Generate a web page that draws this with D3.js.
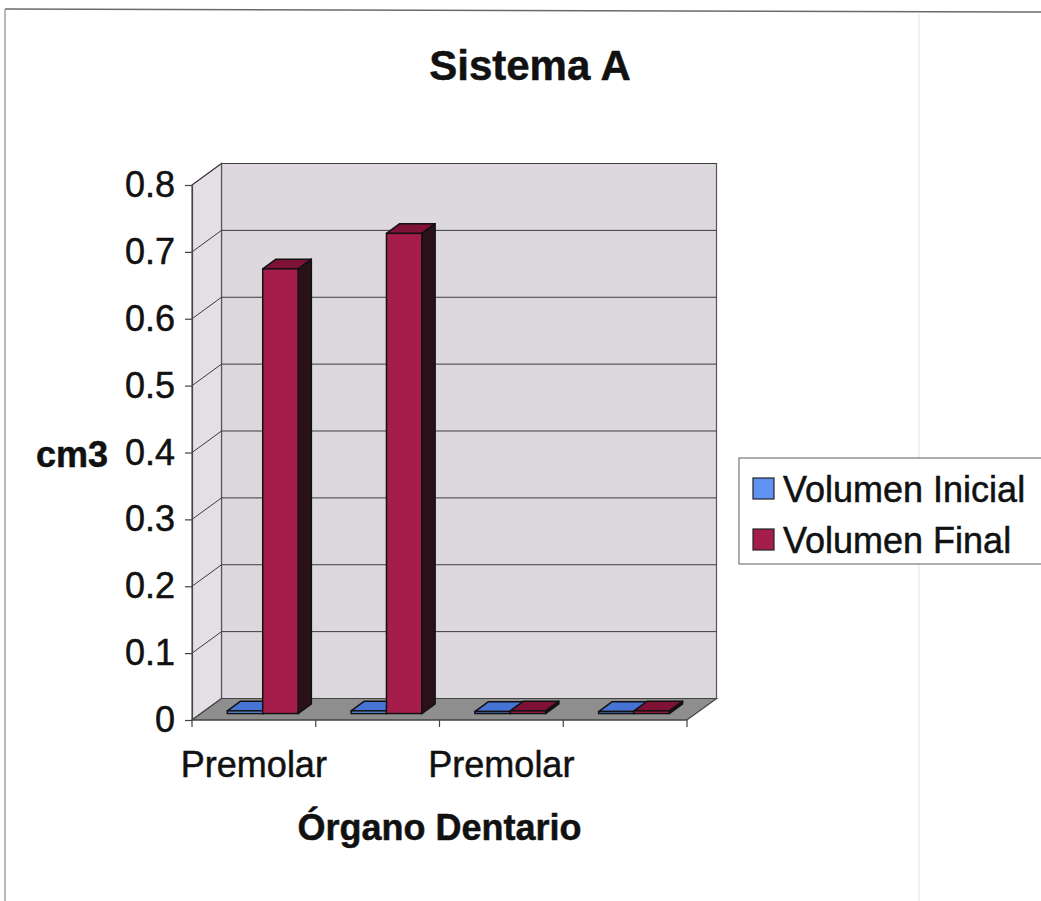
<!DOCTYPE html>
<html>
<head>
<meta charset="utf-8">
<script src="https://cdn.jsdelivr.net/npm/d3@7/dist/d3.min.js"></script>
<style>
  html, body { margin: 0; padding: 0; background: #fff; }
  svg { display: block; font-family: "Liberation Sans", Arial, sans-serif; }
  text { stroke: #111; stroke-width: 0.5px; }
</style>
</head>
<body>
<svg id="chart" width="1041" height="901"></svg>
<script>
// ---- data ----
const chartTitle = "Sistema A";
const yAxisTitle = "cm3";
const xAxisTitle = "Órgano Dentario";
const categories = ["Premolar", "Premolar", "Premolar", "Premolar"];
const seriesNames = ["Volumen Inicial", "Volumen Final"];
const volumenInicial = [0.004, 0.004, 0.003, 0.003];
const volumenFinal = [0.665, 0.718, 0.004, 0.004];
const yTickValues = [0, 0.1, 0.2, 0.3, 0.4, 0.5, 0.6, 0.7, 0.8];
const yTickLabels = ["0", "0.1", "0.2", "0.3", "0.4", "0.5", "0.6", "0.7", "0.8"];

// ---- layout ----
const svg = d3.select("#chart");
const X0 = 192, X1 = 687, YTOP = 185, YBOT = 720;
const DX = 29.5, DY = -21.5;       // depth offset of back wall
const Z0 = 0.3, Z1 = 0.75;         // bar depth span
const font = "'Liberation Sans', Arial, sans-serif";

const y = d3.scaleLinear().domain([0, 0.8]).range([YBOT, YTOP]);
const x = d3.scaleBand().domain(d3.range(categories.length)).range([X0, X1]).padding(0);
const series = [
  { name: seriesNames[0], values: volumenInicial, front: "#5f92f2", top: "#4674d4", side: "#18285a" },
  { name: seriesNames[1], values: volumenFinal, front: "#a51d4b", top: "#7d1236", side: "#2a1117" }
];

// frame artefacts
svg.append("line").attr("x1", 5).attr("y1", 9).attr("x2", 1041).attr("y2", 12)
  .attr("stroke", "#6a6a6a").attr("stroke-width", 1.5);
svg.append("line").attr("x1", 5).attr("y1", 9).attr("x2", 5).attr("y2", 901)
  .attr("stroke", "#8a8a8a").attr("stroke-width", 1.2);
svg.append("line").attr("x1", 919).attr("y1", 14).attr("x2", 919).attr("y2", 901)
  .attr("stroke", "#e3eef4").attr("stroke-width", 1.5);

// title
svg.append("text").attr("x", 530).attr("y", 80).attr("text-anchor", "middle")
  .attr("font-size", 42).attr("font-weight", "bold").attr("fill", "#111").text(chartTitle);

const g = svg.append("g");
const P = (px, py) => px + "," + py;

// back wall
g.append("polygon")
  .attr("points", [P(X0 + DX, YTOP + DY), P(X1 + DX, YTOP + DY), P(X1 + DX, YBOT + DY), P(X0 + DX, YBOT + DY)].join(" "))
  .attr("fill", "#ddd8de").attr("stroke", "#555").attr("stroke-width", 1.2);
// side wall
g.append("polygon")
  .attr("points", [P(X0, YTOP), P(X0 + DX, YTOP + DY), P(X0 + DX, YBOT + DY), P(X0, YBOT)].join(" "))
  .attr("fill", "#e4dfe4").attr("stroke", "#555").attr("stroke-width", 1.2);
// floor
g.append("polygon")
  .attr("points", [P(X0, YBOT), P(X1, YBOT), P(X1 + DX, YBOT + DY), P(X0 + DX, YBOT + DY)].join(" "))
  .attr("fill", "#8e8e8e").attr("stroke", "#444").attr("stroke-width", 1.2);

// gridlines
yTickValues.forEach(v => {
  if (v === 0) return;
  g.append("line").attr("x1", X0 + DX).attr("x2", X1 + DX).attr("y1", y(v) + DY).attr("y2", y(v) + DY)
    .attr("stroke", "#3c3c3c").attr("stroke-width", 1);
  g.append("line").attr("x1", X0).attr("x2", X0 + DX).attr("y1", y(v)).attr("y2", y(v) + DY)
    .attr("stroke", "#3c3c3c").attr("stroke-width", 1);
});

// y axis
const yAxis = d3.axisLeft(y).tickValues(yTickValues)
  .tickFormat((d, i) => yTickLabels[i]).tickSize(7).tickPadding(10).tickSizeOuter(0);
const ya = g.append("g").attr("transform", `translate(${X0},0)`).call(yAxis);
ya.select(".domain").attr("stroke", "#444").attr("stroke-width", 1.2);
ya.selectAll(".tick line").attr("stroke", "#444").attr("stroke-width", 1.2);
ya.selectAll(".tick text").attr("font-size", 36).attr("font-family", font).attr("fill", "#111");

// category axis ticks
const bounds = d3.range(categories.length + 1).map(i => i < categories.length ? x(i) : X1);
bounds.forEach(b => {
  g.append("line").attr("x1", b).attr("x2", b).attr("y1", YBOT).attr("y2", YBOT + 7)
    .attr("stroke", "#444").attr("stroke-width", 1.2);
});
g.append("line").attr("x1", X0).attr("x2", X1).attr("y1", YBOT).attr("y2", YBOT)
  .attr("stroke", "#444").attr("stroke-width", 1.2);
categories.forEach((c, i) => {
  if (i % 2 !== 0) return;
  g.append("text").attr("x", x(i) + x.bandwidth() / 2).attr("y", 777)
    .attr("text-anchor", "middle").attr("font-size", 36).attr("fill", "#111").text(c);
});

// bars
const w = x.bandwidth() / 3.5;
categories.forEach((c, i) => {
  series.forEach((s, si) => {
    const xa = x(i) + 0.75 * w + si * w;
    const xb = xa + w;
    const ox0 = Z0 * DX, oy0 = Z0 * DY, ox1 = Z1 * DX, oy1 = Z1 * DY;
    const yv = y(s.values[i]), y0 = y(0);
    const bg = g.append("g");
    // side face
    bg.append("polygon")
      .attr("points", [P(xb + ox0, yv + oy0), P(xb + ox1, yv + oy1), P(xb + ox1, y0 + oy1), P(xb + ox0, y0 + oy0)].join(" "))
      .attr("fill", s.side).attr("stroke", "#111").attr("stroke-width", 1.5).attr("stroke-linejoin", "round");
    // top face
    bg.append("polygon")
      .attr("points", [P(xa + ox0, yv + oy0), P(xb + ox0, yv + oy0), P(xb + ox1, yv + oy1), P(xa + ox1, yv + oy1)].join(" "))
      .attr("fill", s.top).attr("stroke", "#111").attr("stroke-width", 1.5).attr("stroke-linejoin", "round");
    // front face
    bg.append("rect").attr("x", xa + ox0).attr("y", yv + oy0).attr("width", w).attr("height", y0 - yv)
      .attr("fill", s.front).attr("stroke", "#111").attr("stroke-width", 1.5);
  });
});

// axis titles
svg.append("text").attr("x", 36).attr("y", 467).attr("font-size", 36).attr("font-weight", "bold")
  .attr("fill", "#111").text(yAxisTitle);
svg.append("text").attr("x", (X0 + X1) / 2).attr("y", 840).attr("text-anchor", "middle")
  .attr("font-size", 36).attr("font-weight", "bold").attr("fill", "#111").text(xAxisTitle);

// legend
const lg = svg.append("g");
lg.append("rect").attr("x", 739).attr("y", 458).attr("width", 330).attr("height", 106)
  .attr("fill", "#fff").attr("stroke", "#777").attr("stroke-width", 1.2);
series.forEach((s, i) => {
  const cy = 489 + i * 51;
  lg.append("rect").attr("x", 753).attr("y", cy - 11).attr("width", 21).attr("height", 21)
    .attr("fill", s.front).attr("stroke", "#222").attr("stroke-width", 1.2);
  lg.append("text").attr("x", 783).attr("y", cy + 13).attr("font-size", 36).attr("fill", "#111").text(s.name);
});
</script>
</body>
</html>
